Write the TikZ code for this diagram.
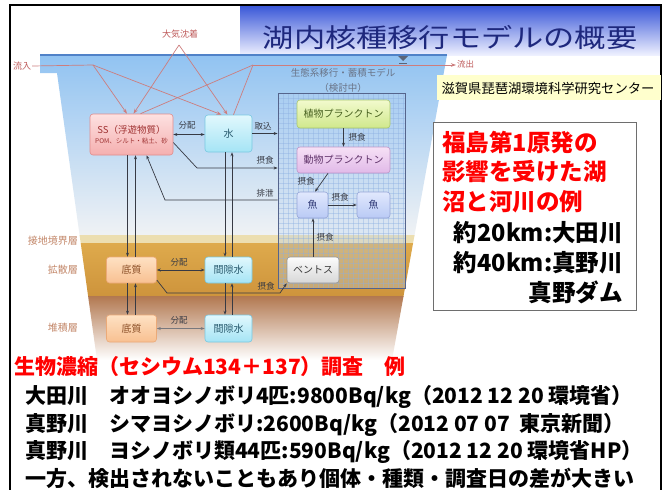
\documentclass[tikz,border=0pt]{standalone}
\usepackage{fontspec}
\setmainfont{Noto Sans CJK JP}
\usetikzlibrary{arrows.meta}
\definecolor{lnk}{RGB}{55,58,68}
\definecolor{redln}{RGB}{205,125,125}
\definecolor{redtx}{RGB}{190,90,90}
\definecolor{laytx}{RGB}{195,135,105}
\definecolor{wtop}{RGB}{145,195,242}
\definecolor{wbot}{RGB}{240,242,244}
\definecolor{bndc}{RGB}{236,222,176}
\definecolor{goldA}{RGB}{222,170,76}
\definecolor{goldB}{RGB}{206,148,60}
\definecolor{brnc}{RGB}{178,120,80}
\definecolor{gridc}{RGB}{140,175,225}
\definecolor{ecob}{RGB}{85,100,140}
\definecolor{titc}{RGB}{30,40,125}
\definecolor{barT}{RGB}{55,85,215}
\definecolor{barB}{RGB}{238,240,255}
\definecolor{labc}{RGB}{255,255,205}
\definecolor{ssT}{RGB}{253,225,225}\definecolor{ssB}{RGB}{245,175,175}\definecolor{ssD}{RGB}{225,140,140}
\definecolor{wT}{RGB}{225,248,253}\definecolor{wB}{RGB}{165,228,245}\definecolor{wD}{RGB}{120,200,225}
\definecolor{sdT}{RGB}{254,225,195}\definecolor{sdB}{RGB}{248,192,145}\definecolor{sdD}{RGB}{235,170,120}
\definecolor{phT}{RGB}{242,250,205}\definecolor{phB}{RGB}{208,232,140}\definecolor{phD}{RGB}{170,200,110}
\definecolor{zoT}{RGB}{246,225,246}\definecolor{zoB}{RGB}{225,185,232}\definecolor{zoD}{RGB}{190,150,200}
\definecolor{fiT}{RGB}{225,232,253}\definecolor{fiB}{RGB}{185,202,245}\definecolor{fiD}{RGB}{150,165,215}
\definecolor{beT}{RGB}{252,252,252}\definecolor{beB}{RGB}{215,215,215}\definecolor{beD}{RGB}{150,150,150}
\begin{document}
\begin{tikzpicture}[x=1pt,y=-1pt,
  arr/.style={-{Stealth[length=4pt,width=3pt]}, color=lnk, line width=0.7pt},
  darr/.style={{Stealth[length=4pt,width=3pt]}-{Stealth[length=4pt,width=3pt]}, color=lnk, line width=0.7pt},
  rarr/.style={-{Stealth[length=5pt,width=3.5pt]}, color=redln, line width=0.7pt},
  rln/.style={color=redln, line width=0.7pt},
  bx/.style={rounded corners=3pt, line width=0.6pt, inner sep=1pt, align=center, font=\fontsize{10}{11}\selectfont},
  ssbox/.style={bx, top color=ssT, bottom color=ssB, draw=ssD, text={rgb,255:red,160;green,50;blue,50}},
  wbox/.style={bx, top color=wT, bottom color=wB, draw=wD, text={rgb,255:red,40;green,90;blue,110}},
  sdbox/.style={bx, top color=sdT, bottom color=sdB, draw=sdD, text={rgb,255:red,140;green,80;blue,40}},
  phbox/.style={bx, top color=phT, bottom color=phB, draw=phD, text={rgb,255:red,70;green,95;blue,30}},
  zobox/.style={bx, top color=zoT, bottom color=zoB, draw=zoD, text={rgb,255:red,95;green,50;blue,105}},
  fibox/.style={bx, top color=fiT, bottom color=fiB, draw=fiD, text={rgb,255:red,50;green,60;blue,120}},
  bebox/.style={bx, top color=beT, bottom color=beB, draw=beD, text={rgb,255:red,60;green,60;blue,60}},
  lbl/.style={font=\fontsize{8.5}{9}\selectfont, text=lnk, inner sep=0.5pt},
  lay/.style={font=\fontsize{10}{11}\selectfont, text=laytx, inner sep=0pt, anchor=east},
  rtx/.style={font=\fontsize{9}{10}\selectfont, text=redtx, inner sep=1pt},
  bigr/.style={font=\bfseries\fontsize{23.5}{24}\selectfont, text=red, inner sep=0pt, anchor=west},
  bigk/.style={font=\bfseries\fontsize{23.5}{24}\selectfont, text=black, inner sep=0pt, anchor=east},
  btx/.style={font=\bfseries\fontsize{21}{22}\selectfont, text=black, inner sep=0pt, anchor=west}
]
\useasboundingbox (0,0) rectangle (667,490);
\fill[white] (0,0) rectangle (667,490);
% title bar
\shade[top color=barT, bottom color=barB] (240,5) rectangle (661,55);
\node[font=\fontsize{26}{28}\selectfont, text=titc, xscale=1.2, inner sep=0] (title) at (450,38) {湖内核種移行モデルの概要};
% lake
\begin{scope}
\clip (40,55) -- (447,55) -- (392,360) -- (97,360) -- (57,73) -- (40,73) -- cycle;
\shade[top color=wtop, bottom color=wbot] (30,55) rectangle (460,236);
\fill[bndc] (30,235) rectangle (460,243);
\shade[top color=goldA, bottom color=goldB] (30,243) rectangle (460,296);
\shade[top color=brnc, bottom color=white] (30,296) rectangle (460,360);
\end{scope}
\draw[color={rgb,255:red,80;green,130;blue,200}, line width=1.2pt] (40,55) -- (447,55);
% frame
\draw[line width=2.5pt, color=black] (10,490) -- (10,5) -- (661,5) -- (661,490);
% water level mark
\fill[color={rgb,255:red,90;green,100;blue,120}] (398,56) -- (408,56) -- (403,61) -- cycle;
\draw[color={rgb,255:red,90;green,100;blue,120}, line width=0.6pt] (399,63) -- (407,63) (400.5,65) -- (405.5,65);
% ecosystem grid panel
\fill[color={rgb,255:red,180;green,208;blue,240}, opacity=0.3] (278,93) rectangle (405,288);
\foreach \gx in {283,288,...,403} \draw[gridc, line width=0.3pt, opacity=0.4] (\gx,93) -- (\gx,288);
\foreach \gy in {98,103,...,286} \draw[gridc, line width=0.3pt, opacity=0.4] (278,\gy) -- (405,\gy);
\node[draw=ecob, line width=0.8pt, minimum width=127pt, minimum height=195pt, inner sep=0] (eco) at (341.5,190.5) {};
\node[font=\fontsize{9.5}{10}\selectfont, text={rgb,255:red,105;green,115;blue,135}, inner sep=0] (ecot1) at (343,73) {生態系移行・蓄積モデル};
\node[font=\fontsize{9.5}{10}\selectfont, text={rgb,255:red,105;green,115;blue,135}, inner sep=0] (ecot2) at (343,88) {（検討中）};
% boxes
\node[ssbox, minimum width=83pt, minimum height=41pt] (ss) at (131.5,134.5) {{\fontsize{9.5}{11}\selectfont SS（浮遊物質）}\\[-1pt]{\fontsize{6.5}{7}\selectfont POM、シルト・粘土、砂}};
\node[wbox, minimum width=47pt, minimum height=37pt] (w) at (228.5,133.5) {水};
\node[phbox, minimum width=93pt, minimum height=28pt] (phy) at (343.5,114) {植物プランクトン};
\node[zobox, minimum width=93pt, minimum height=26pt] (zoo) at (343.5,160) {動物プランクトン};
\node[fibox, minimum width=31pt, minimum height=26pt] (fa) at (312.5,205) {魚};
\node[fibox, minimum width=33pt, minimum height=26pt] (fb) at (373.5,205) {魚};
\node[bebox, minimum width=52pt, minimum height=26pt] (ben) at (313,270) {ベントス};
\node[sdbox, minimum width=50pt, minimum height=26pt] (sda) at (131.5,270) {底質};
\node[wbox, minimum width=47pt, minimum height=26pt] (pwa) at (228.5,270) {間隙水};
\node[sdbox, minimum width=50pt, minimum height=27pt] (sdb) at (131.5,328.5) {底質};
\node[wbox, minimum width=47pt, minimum height=27pt] (pwb) at (228.5,328.5) {間隙水};
% inflow / deposition / outflow
\node[rtx, fill=white] (inflow) at (22,66) {流入};
\node[rtx] (atm) at (180,34) {大気沈着};
\node[rtx, font=\fontsize{8.5}{9}\selectfont, anchor=west] (outflow) at (456,64) {流出};
\coordinate (j1) at (93,65);
\coordinate (j2) at (253,65);
\coordinate (apex) at (179,45);
\draw[rln] (inflow.east) -- (j1);
\draw[rarr] (j1) -- ([xshift=-4.5pt]ss.north);
\draw[rarr] (j1) -- ([xshift=-7pt]w.north);
\draw[rarr] (apex) -- ([xshift=2pt]ss.north);
\draw[rarr] (apex) -- ([xshift=-1pt]w.north);
\draw[rln] (j2) -- ([xshift=9pt]ss.north);
\draw[rln] (j2) -- ([xshift=5pt]w.north);
\draw[rarr] (j2) -- (j2 -| outflow.west);
% water column links
\draw[darr] (ss.east) -- (ss.east -| w.west);
\node[lbl] (l1) at (187,125) {分配};
\draw[arr] (w.east) -- (w.east -| eco.west);
\node[lbl] (l2) at (263,126) {取込};
\coordinate (k1) at (197,168);
\draw[arr] ([yshift=-8pt]ss.east) -- (k1) -- (k1 -| eco.west);
\node[lbl] (l3) at (265,160) {摂食};
\coordinate (k2) at (165,200);
\draw[arr] (k2 -| eco.west) -- (k2) -- ([xshift=15pt]ss.south);
\node[lbl] (l4) at (265,193) {排泄};
% vertical exchanges
\draw[arr] ([xshift=-4pt]ss.south) -- ([xshift=-4pt]sda.north);
\draw[arr] ([xshift=4pt]sda.north) -- ([xshift=4pt]ss.south);
\draw[arr] ([xshift=-3.5pt]w.south) -- ([xshift=-3.5pt]pwa.north);
\draw[arr] ([xshift=3.5pt]pwa.north) -- ([xshift=3.5pt]w.south);
\draw[arr] ([xshift=-4pt]sda.south) -- ([xshift=-4pt]sdb.north);
\draw[arr] ([xshift=4pt]sdb.north) -- ([xshift=4pt]sda.south);
\draw[arr] ([xshift=-3.5pt]pwa.south) -- ([xshift=-3.5pt]pwb.north);
\draw[arr] ([xshift=3.5pt]pwb.north) -- ([xshift=3.5pt]pwa.south);
\draw[darr] (sda.east) -- (sda.east -| pwa.west);
\node[lbl] (l5) at (179,262) {分配};
\draw[darr, color={rgb,255:red,120;green,120;blue,125}] (sdb.east) -- (sdb.east -| pwb.west);
\node[lbl] (l6) at (179,320) {分配};
\coordinate (k3) at (167,293);
\coordinate (k4) at (280,293);
\draw[arr] ([yshift=-10pt]sda.east) -- (k3) -- (k4) -- (ben.south west);
\node[lbl] (l7) at (266,286) {摂食};
% food web
\draw[arr] (phy.south) -- (zoo.north);
\node[lbl] (l8) at (357,137) {摂食};
\draw[arr] ([xshift=-15.5pt]zoo.south) -- ([xshift=2.5pt]fa.north);
\node[lbl] (l9) at (306,181) {摂食};
\draw[arr] (fa.east) -- (fb.west);
\node[lbl] (l10) at (340,197) {摂食};
\draw[arr] (ben.north) -- (ben.north |- fa.south);
\node[lbl] (l11) at (325,237) {摂食};
% layer names
\node[lay] (lay1) at (78,241) {接地境界層};
\node[lay] (lay2) at (78,270) {拡散層};
\node[lay] (lay3) at (78,328) {堆積層};
% right side
\node[fill=labc, minimum width=224pt, minimum height=25pt, inner sep=0] (labbox) at (549,87.5) {};
\node[font=\fontsize{13.3}{14}\selectfont, inner sep=0] (labt) at (548,88) {滋賀県琵琶湖環境科学研究センター};
\node[draw={rgb,255:red,110;green,110;blue,110}, line width=0.8pt, fill=white, minimum width=203pt, minimum height=188pt, inner sep=0] (rbox) at (534.5,216) {};
\node[bigr] (r1) at (442,142) {福島第1原発の};
\node[bigr] (r2) at (442,172) {影響を受けた湖};
\node[bigr] (r3) at (442,202) {沼と河川の例};
\node[bigk] (r4) at (623,233) {約20km:大田川};
\node[bigk] (r5) at (623,263) {約40km:真野川};
\node[bigk] (r6) at (623,292) {真野ダム};
% bottom text
\node[btx, text=red] (b0) at (14,367) {生物濃縮（セシウム134＋137）調査　例};
\node[btx] (b1) at (25,397) {大田川　オオヨシノボリ4匹:9800Bq/kg（2012 12 20 環境省）};
\node[btx] (b2) at (25,425) {真野川　シマヨシノボリ:2600Bq/kg（2012 07 07\ \ 東京新聞）};
\node[btx] (b3) at (25,452) {真野川　ヨシノボリ類44匹:590Bq/kg（2012 12 20 環境省HP）};
\node[btx] (b4) at (25,478) {一方、検出されないこともあり個体・種類・調査日の差が大きい};
\end{tikzpicture}
\end{document}
